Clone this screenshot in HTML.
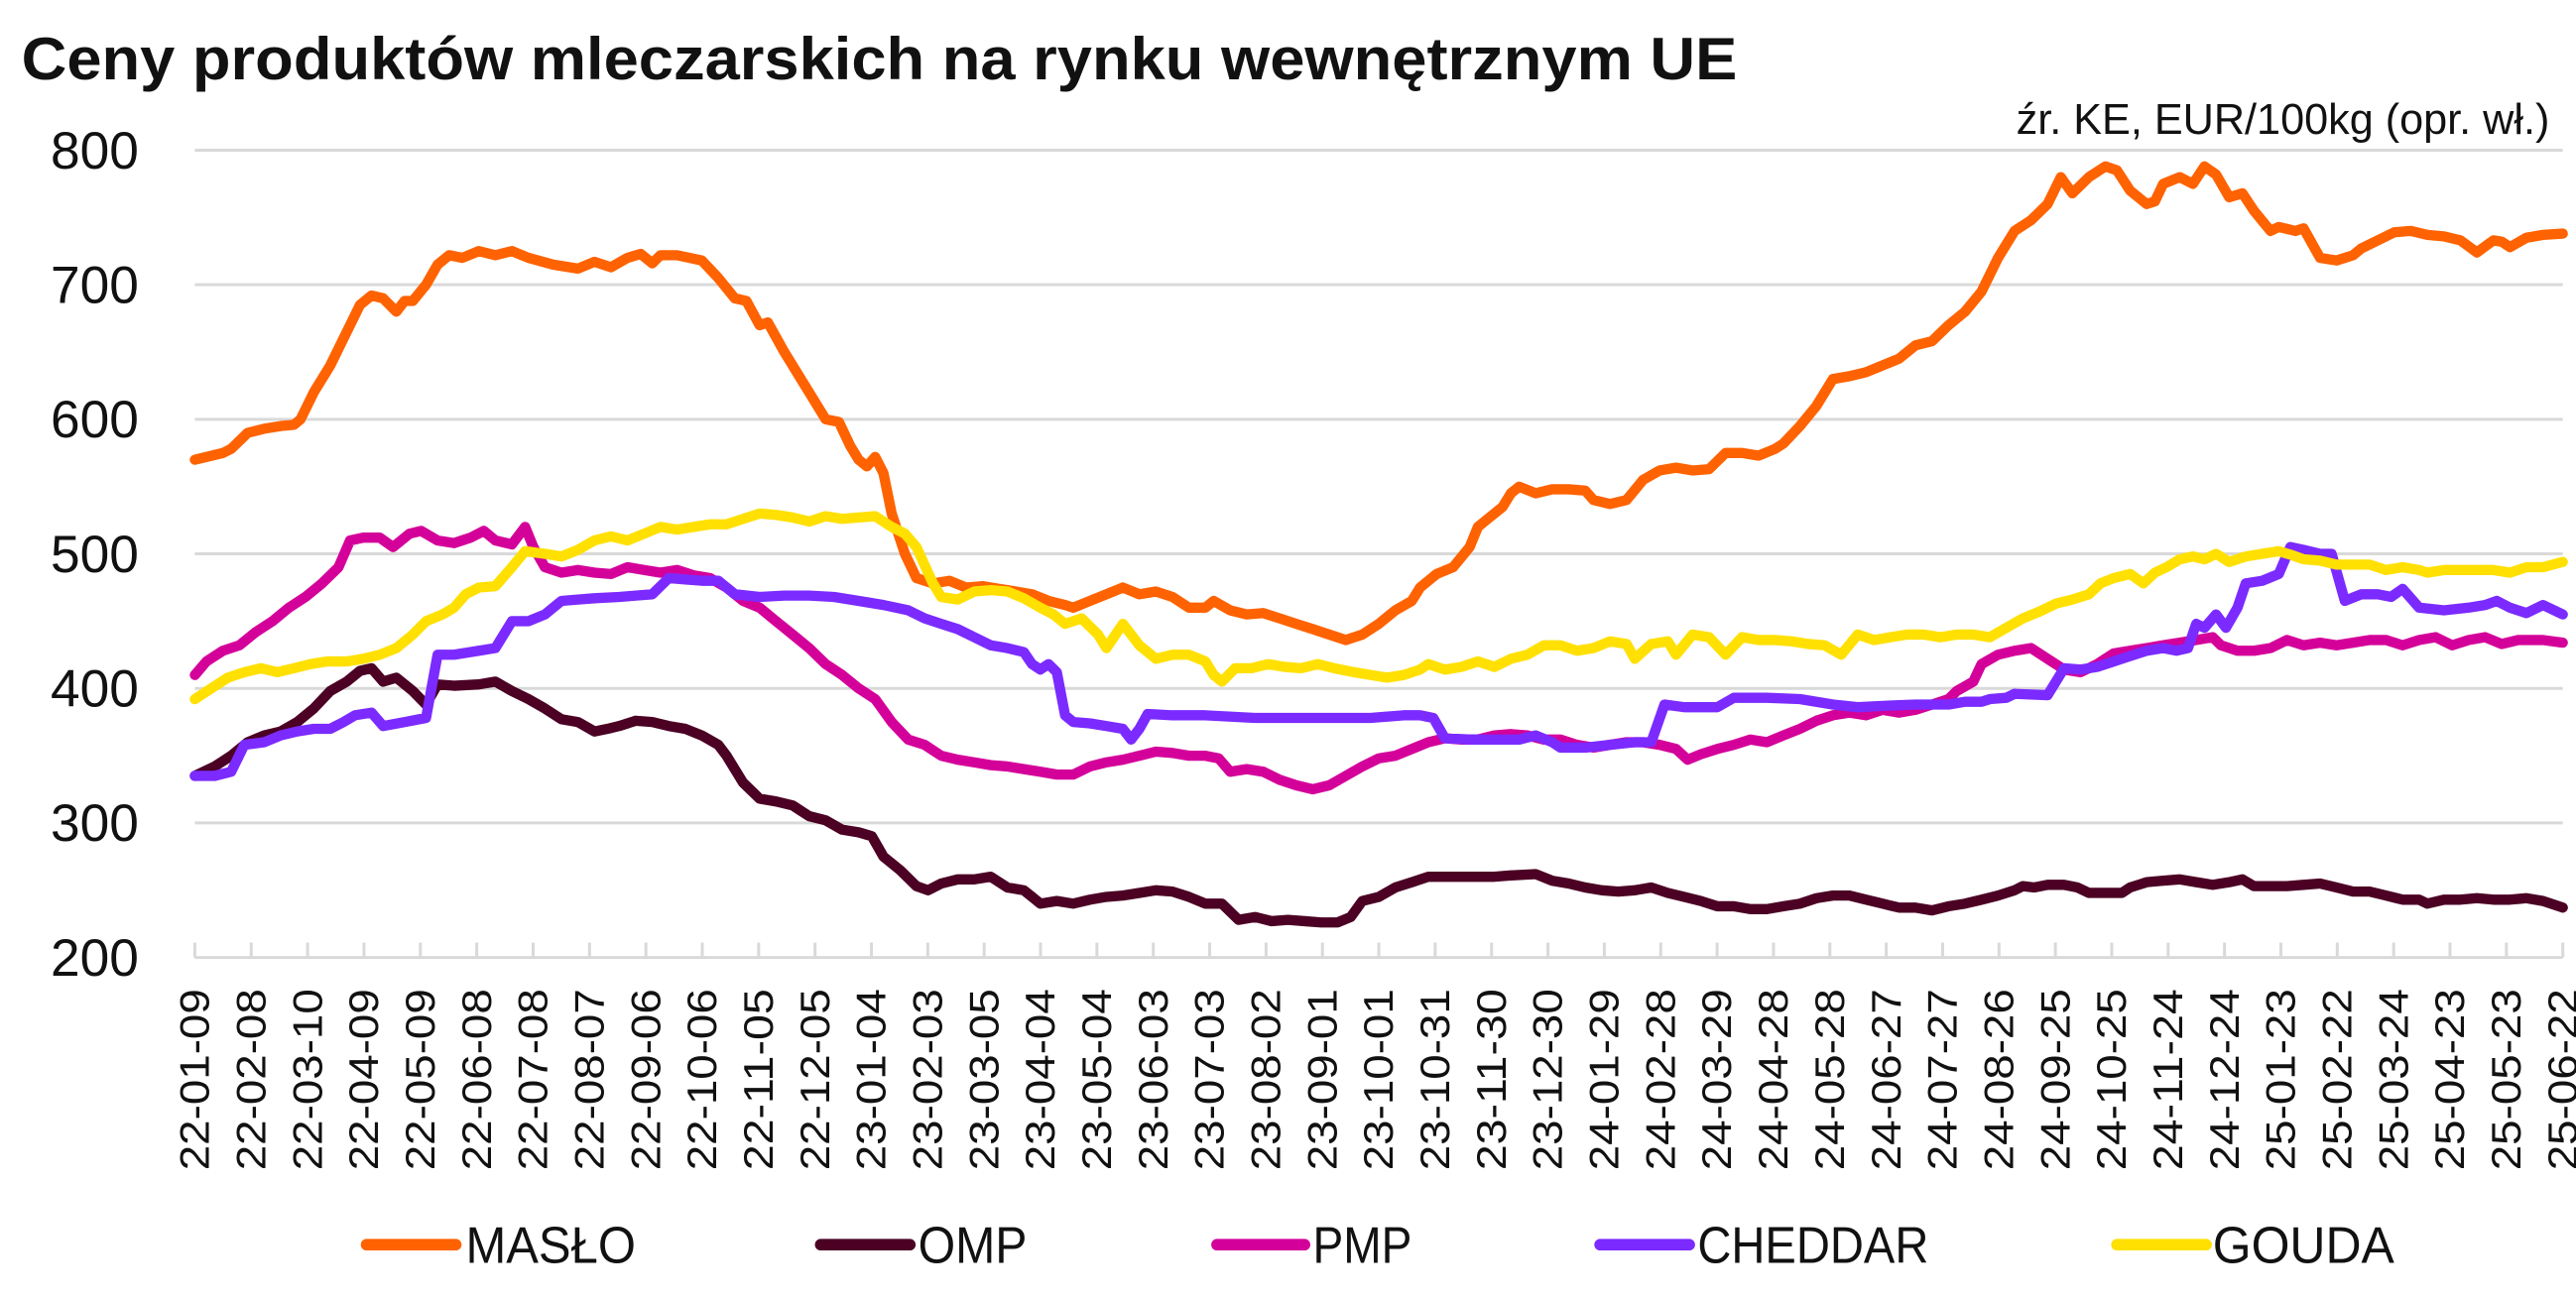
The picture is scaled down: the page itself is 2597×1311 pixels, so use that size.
<!DOCTYPE html>
<html><head><meta charset="utf-8">
<style>
html,body{margin:0;padding:0;background:#fff;}
svg{display:block;}
text{font-family:"Liberation Sans",sans-serif;fill:#111;}
</style></head>
<body>
<svg id="s" width="2597" height="1311" viewBox="0 0 1560 787.5" preserveAspectRatio="none" xmlns="http://www.w3.org/2000/svg">
<rect width="1560" height="787.5" fill="#fff"/>
<text x="13" y="48" font-size="36" font-weight="bold" textLength="1039" lengthAdjust="spacingAndGlyphs">Ceny produktów mleczarskich na rynku wewnętrznym UE</text>
<text x="1544" y="81" font-size="26" text-anchor="end" textLength="323" lengthAdjust="spacingAndGlyphs">źr. KE, EUR/100kg (opr. wł.)</text>
<g id="grid" stroke="#d9d9d9" stroke-width="1.8"></g>
<g id="ylab" font-size="32" text-anchor="end"></g>
<g id="xlab" font-size="25"></g>
<g id="series" fill="none" stroke-width="6.2" stroke-linejoin="round" stroke-linecap="round"></g>
<g font-size="31">
<line x1="222" y1="754" x2="276" y2="754" stroke="#ff6200" stroke-width="7" stroke-linecap="round"/>
<text x="282" y="765" textLength="103" lengthAdjust="spacingAndGlyphs">MASŁO</text>
<line x1="497" y1="754" x2="551" y2="754" stroke="#4b0024" stroke-width="7" stroke-linecap="round"/>
<text x="556" y="765" textLength="66" lengthAdjust="spacingAndGlyphs">OMP</text>
<line x1="737" y1="754" x2="790" y2="754" stroke="#d4009a" stroke-width="7" stroke-linecap="round"/>
<text x="795" y="765" textLength="60" lengthAdjust="spacingAndGlyphs">PMP</text>
<line x1="969" y1="754" x2="1023" y2="754" stroke="#7b2bff" stroke-width="7" stroke-linecap="round"/>
<text x="1028" y="765" textLength="140" lengthAdjust="spacingAndGlyphs">CHEDDAR</text>
<line x1="1282" y1="754" x2="1336" y2="754" stroke="#ffe000" stroke-width="7" stroke-linecap="round"/>
<text x="1340" y="765" textLength="110" lengthAdjust="spacingAndGlyphs">GOUDA</text>
</g>
</svg>
<script>
var NS="http://www.w3.org/2000/svg";
function el(t,a,p,txt){var e=document.createElementNS(NS,t);for(var k in a)e.setAttribute(k,a[k]);if(txt)e.textContent=txt;p.appendChild(e);return e;}
function Y(v){return 580-(v-200)*0.815;}
var g=document.getElementById('grid'),yl=document.getElementById('ylab'),xl=document.getElementById('xlab'),sr=document.getElementById('series');
for(var v=200;v<=800;v+=100){el('line',{x1:118,x2:1552,y1:Y(v),y2:Y(v)},g);el('text',{x:84,y:Y(v)+11},yl,String(v));}
var labs="22-01-09 22-02-08 22-03-10 22-04-09 22-05-09 22-06-08 22-07-08 22-08-07 22-09-06 22-10-06 22-11-05 22-12-05 23-01-04 23-02-03 23-03-05 23-04-04 23-05-04 23-06-03 23-07-03 23-08-02 23-09-01 23-10-01 23-10-31 23-11-30 23-12-30 24-01-29 24-02-28 24-03-29 24-04-28 24-05-28 24-06-27 24-07-27 24-08-26 24-09-25 24-10-25 24-11-24 24-12-24 25-01-23 25-02-22 25-03-24 25-04-23 25-05-23 25-06-22".split(" ");
var dx=(1552-118)/42;
for(var i=0;i<labs.length;i++){var x=118+i*dx;el('line',{x1:x,x2:x,y1:571,y2:580},g);
el('text',{x:0,y:0,'text-anchor':'end',transform:'translate('+(x+8.5)+',599) rotate(-90)',textLength:110,lengthAdjust:'spacingAndGlyphs'},xl,labs[i]);}
var D={
"#ff6200":"118:570,135:575,140:578,150:590,160:593,170:595,178:596,182:600,190:620,200:640,210:665,218:685,225:692,232:690,240:680,245:688,250:688,258:700,265:715,272:722,280:720,290:725,300:722,310:725,320:720,335:715,350:712,360:717,370:713,380:720,388:723,395:716,400:722,410:722,425:718,435:705,445:690,452:688,460:670,465:672,475:650,490:620,500:600,508:598,515:580,520:570,525:565,530:572,535:560,540:530,548:500,555:482,565:478,575:480,585:475,595:476,605:474,615:472,625:470,635:465,645:462,650:460,660:465,670:470,680:475,690:470,700:472,710:468,720:460,730:460,735:465,745:458,755:455,765:456,775:452,785:448,795:444,805:440,815:436,825:440,835:448,845:458,855:465,860:475,870:485,880:490,890:505,895:520,900:525,910:535,915:545,920:550,930:545,940:548,950:548,960:547,965:540,975:537,985:540,995:555,1005:562,1015:564,1025:562,1035:563,1045:575,1055:575,1065:573,1075:578,1080:582,1090:595,1100:610,1110:630,1120:632,1130:635,1140:640,1150:645,1160:655,1170:658,1180:670,1190:680,1200:695,1210:720,1220:740,1230:748,1240:760,1248:780,1255:768,1265:780,1275:788,1282:785,1290:770,1300:760,1305:762,1310:775,1320:780,1328:775,1335:788,1342:782,1350:765,1358:768,1365:755,1375:740,1380:743,1390:740,1395:742,1405:720,1415:718,1425:722,1430:727,1440:733,1450:739,1460:740,1470:737,1480:736,1490:733,1500:724,1510:733,1515:732,1520:728,1530:735,1540:737,1552:738",
"#4b0024":"118:335,130:342,140:350,150:360,160:365,170:368,180:375,190:385,200:398,210:405,218:413,225:415,232:405,240:408,250:398,258:388,265:403,275:402,290:403,300:405,310:398,320:392,330:385,340:377,350:375,360:368,368:370,375:372,385:376,395:375,405:372,415:370,425:365,435:358,440:350,450:330,460:318,470:316,480:313,490:305,500:302,510:295,520:293,528:290,535:275,545:265,555:253,562:250,570:255,580:258,590:258,600:260,610:252,620:250,625:245,630:240,640:242,650:240,660:243,670:245,680:246,690:248,700:250,710:249,720:245,730:240,740:240,750:228,760:230,770:227,780:228,790:227,800:226,810:226,818:230,825:242,835:245,845:252,855:256,865:260,875:260,885:260,895:260,905:260,915:261,930:262,940:257,950:255,960:252,970:250,980:249,990:250,1000:252,1010:248,1020:245,1030:242,1040:238,1050:238,1060:236,1070:236,1080:238,1090:240,1100:244,1110:246,1120:246,1130:243,1140:240,1150:237,1160:237,1170:235,1180:238,1190:240,1200:243,1210:246,1220:250,1225:253,1232:252,1240:254,1250:254,1258:252,1265:248,1275:248,1285:248,1290:252,1300:256,1310:257,1320:258,1330:256,1340:254,1350:256,1358:258,1365:253,1375:253,1385:253,1395:254,1405:255,1415:252,1425:249,1435:249,1445:246,1455:243,1465:243,1470:240,1480:243,1490:243,1500:244,1510:243,1520:243,1530:244,1540:242,1552:237",
"#d4009a":"118:410,125:420,135:428,145:432,155:442,165:450,175:460,185:468,195:478,205:490,212:510,220:512,230:512,238:505,248:515,255:517,265:510,275:508,285:512,293:517,300:510,310:507,318:520,323:505,330:490,340:486,350:488,360:486,370:485,380:490,390:488,400:486,410:488,420:484,430:482,440:475,450:465,460:460,470:450,480:440,490:430,500:418,510:410,520:400,530:392,540:375,550:362,560:358,570:350,580:347,590:345,600:343,610:342,620:340,630:338,640:336,650:336,660:342,670:345,680:347,690:350,700:353,710:352,720:350,730:350,738:348,745:338,755:340,765:338,775:332,785:328,795:325,805:328,815:335,825:342,835:348,845:350,855:355,865:360,875:363,885:362,895:362,905:365,915:366,925:365,935:362,945:362,955:358,965:356,975:358,985:360,995:360,1005:358,1015:355,1022:347,1030:351,1040:355,1050:358,1060:362,1070:360,1080:365,1090:370,1100:376,1110:380,1120:382,1130:380,1140:384,1150:382,1160:384,1170:388,1180:392,1185:398,1195:405,1200:418,1210:425,1220:428,1230:430,1240:422,1250:414,1260:412,1270:418,1280:426,1290:428,1300:430,1310:432,1320:434,1330:436,1340:438,1345:432,1355:428,1365:428,1375:430,1385:436,1395:432,1405:434,1415:432,1425:434,1435:436,1445:436,1455:432,1465:436,1475:438,1485:432,1495:436,1505:438,1515:433,1525:436,1540:436,1552:434",
"#7b2bff":"118:335,130:335,140:338,148:358,160:360,170:365,180:368,190:370,200:370,208:375,215:380,225:382,232:372,245:375,258:378,265:425,275:425,290:428,300:430,310:450,320:450,330:455,340:465,350:466,360:467,375:468,395:470,405:482,415:481,425:480,435:480,445:470,460:468,475:469,490:469,505:468,520:465,535:462,550:458,560:452,570:448,580:444,590:438,600:432,610:430,620:427,625:418,630:414,635:418,640:412,645:380,650:375,660:374,670:372,680:370,685:362,690:370,695:381,710:380,730:380,760:378,800:378,830:378,850:380,860:380,868:378,875:363,890:362,905:362,920:362,930:365,940:360,945:356,960:356,975:358,990:360,1000:360,1008:388,1020:386,1030:386,1040:386,1050:393,1070:393,1090:392,1110:388,1125:386,1140:387,1160:388,1180:388,1190:390,1200:390,1205:392,1215:393,1220:396,1240:395,1250:415,1260:414,1270:416,1280:420,1290:424,1300:428,1310:430,1318:428,1325:430,1330:448,1335:445,1342:455,1348:445,1355:460,1360:478,1370:480,1380:485,1387:505,1395:503,1405:500,1412:500,1420:465,1430:470,1440:470,1448:468,1455:474,1465:460,1480:458,1495:460,1505:462,1512:465,1520:460,1530:456,1540:462,1552:455",
"#ffe000":"118:392,128:400,138:408,148:412,158:415,168:412,178:415,188:418,198:420,210:420,220:422,230:425,240:430,250:440,258:450,268:455,275:460,282:470,290:475,300:476,310:490,318:502,330:500,340:498,350:503,360:510,370:513,380:510,390:515,400:520,410:518,420:520,430:522,440:522,450:526,460:530,470:529,480:527,490:524,500:528,510:526,520:527,530:528,540:520,548:515,555:505,565:478,570:468,580:466,590:472,600:473,610:472,620:467,630:460,638:455,645:448,655:452,665:440,670:430,680:448,690:432,700:422,710:425,720:425,730:420,735:410,740:405,748:415,758:415,768:418,778:416,788:415,798:418,808:415,820:412,830:410,840:408,850:410,860:414,865:418,875:414,885:416,895:420,905:416,915:422,925:425,935:432,945:432,955:428,965:430,975:435,985:433,990:422,1000:433,1010:435,1015:425,1025:440,1035:438,1045:425,1055:438,1065:436,1075:436,1085:435,1095:433,1105:432,1115:425,1125:440,1135:436,1145:438,1155:440,1165:440,1175:438,1185:440,1195:440,1205:438,1215:445,1225:452,1235:457,1245:463,1255:466,1265:470,1272:478,1280:482,1290:485,1298:478,1305:486,1312:490,1320:496,1328:498,1335:496,1342:500,1350:494,1360:498,1370:500,1380:502,1388:499,1395:496,1405:495,1415:492,1425:492,1435:492,1445:488,1455:490,1465:488,1470:486,1480:488,1490:488,1500:488,1510:488,1520:486,1530:490,1540:490,1552:494"
};
for(var c in D){var pts=D[c].split(",").map(function(p){var a=p.split(":");return a[0]+","+Y(+a[1]).toFixed(1);}).join(" ");
el('polyline',{points:pts,stroke:c},sr);}
</script>
</body></html>
